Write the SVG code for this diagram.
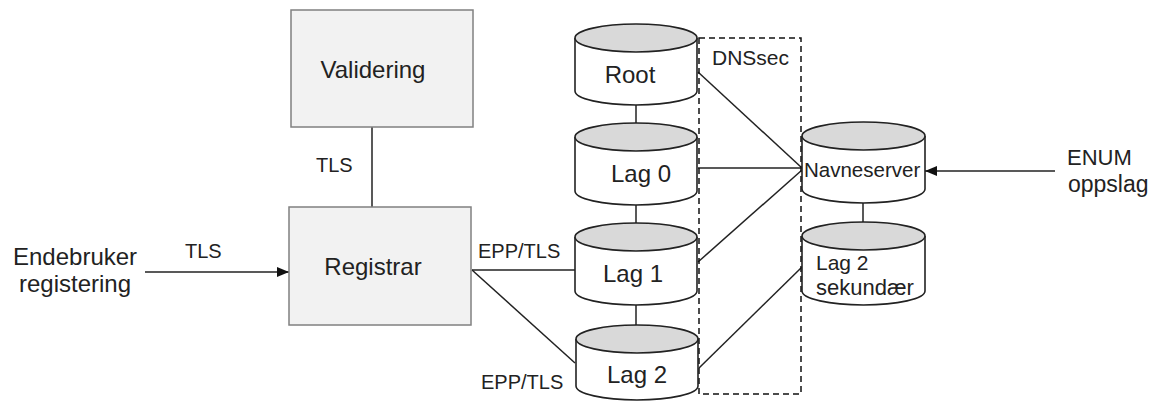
<svg xmlns="http://www.w3.org/2000/svg" width="1159" height="402" viewBox="0 0 1159 402">
<style>
text{font-family:"Liberation Sans",Arial,sans-serif;fill:#222}
.big{font-size:24px}
.sm{font-size:20px}
.box{fill:#f2f2f2;stroke:#808080;stroke-width:1.5}
.cyl{fill:#fff;stroke:#222;stroke-width:1.6}
.top{fill:#d9d9d9;stroke:#222;stroke-width:1.6}
.ln{stroke:#222;stroke-width:1.5;fill:none}
</style>
<defs>
<marker id="arr" viewBox="0 0 12 10" refX="12" refY="5" markerWidth="12" markerHeight="10" markerUnits="userSpaceOnUse" orient="auto">
<path d="M0,0 L12,5 L0,10 Z" fill="#111"/>
</marker>
</defs>
<g id="connectors">
<line class="ln" x1="372" y1="127" x2="372" y2="207"/>
<line class="ln" x1="145" y1="272" x2="289" y2="272" marker-end="url(#arr)"/>
<line class="ln" x1="1055" y1="171" x2="925" y2="171" marker-end="url(#arr)"/>
<line class="ln" x1="472" y1="270" x2="575" y2="270"/>
<line class="ln" x1="472" y1="270" x2="575" y2="363"/>
<line class="ln" x1="636" y1="105" x2="636" y2="137"/>
<line class="ln" x1="636" y1="205" x2="636" y2="237"/>
<line class="ln" x1="636" y1="305" x2="636" y2="339"/>
<line class="ln" x1="863" y1="203" x2="863" y2="236"/>
<line class="ln" x1="698" y1="72" x2="802" y2="168"/>
<line class="ln" x1="698" y1="168" x2="802" y2="168"/>
<line class="ln" x1="698" y1="262" x2="802" y2="170"/>
<line class="ln" x1="699" y1="368" x2="802" y2="267"/>
<text class="sm" x="316" y="172">TLS</text>
<text class="sm" x="185" y="258">TLS</text>
<text class="sm" x="478" y="258">EPP/TLS</text>
<text class="sm" x="481" y="389">EPP/TLS</text>
</g>
<g id="dnssec">
<rect x="699" y="38" width="102" height="356" fill="none" stroke="#111" stroke-width="1.5" stroke-dasharray="6,4"/>
<text x="712" y="65" style="font-size:21px">DNSsec</text>
</g>
<g id="validering">
<rect class="box" x="291" y="10" width="182" height="117"/>
<text class="big" x="373" y="78" text-anchor="middle">Validering</text>
</g>
<g id="registrar">
<rect class="box" x="289" y="207" width="182" height="118"/>
<text class="big" x="373" y="275" text-anchor="middle">Registrar</text>
</g>
<g id="endebruker">
<text class="big" x="13" y="265">Endebruker</text>
<text class="big" x="19" y="292">registering</text>
</g>
<g id="enum">
<text x="1067" y="165" style="font-size:22px">ENUM</text>
<text x="1068" y="192" style="font-size:23px">oppslag</text>
</g>
<g id="root">
<path class="cyl" d="M575,38 V91 A61,14 0 0 0 697,91 V38"/>
<ellipse class="top" cx="636" cy="38" rx="61" ry="14"/>
<text class="big" x="630" y="83" text-anchor="middle">Root</text>
</g>
<g id="lag0">
<path class="cyl" d="M575,137 V191 A61,14 0 0 0 697,191 V137"/>
<ellipse class="top" cx="636" cy="137" rx="61" ry="14"/>
<text class="big" x="641" y="182" text-anchor="middle">Lag 0</text>
</g>
<g id="lag1">
<path class="cyl" d="M575,237 V291 A61,14 0 0 0 697,291 V237"/>
<ellipse class="top" cx="636" cy="237" rx="61" ry="14"/>
<text class="big" x="633" y="282" text-anchor="middle">Lag 1</text>
</g>
<g id="lag2">
<path class="cyl" d="M576,339 V386 A61,14 0 0 0 698,386 V339"/>
<ellipse class="top" cx="637" cy="339" rx="61" ry="14"/>
<text class="big" x="637" y="383" text-anchor="middle">Lag 2</text>
</g>
<g id="navneserver">
<path class="cyl" d="M802,136 V189 A61.5,14 0 0 0 925,189 V136"/>
<ellipse class="top" cx="863.5" cy="136" rx="61.5" ry="14"/>
<text x="804" y="177" style="font-size:20.5px">Navneserver</text>
</g>
<g id="lag2sek">
<path class="cyl" d="M802,236 V291 A61.5,14 0 0 0 925,291 V236"/>
<ellipse class="top" cx="863.5" cy="236" rx="61.5" ry="14"/>
<text x="816" y="270" style="font-size:21px">Lag 2</text>
<text x="816" y="295" style="font-size:22px">sekundær</text>
</g>
</svg>
